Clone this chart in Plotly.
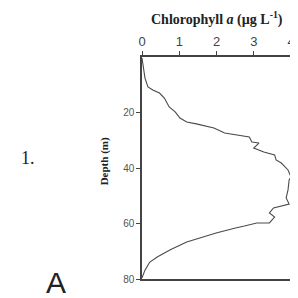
import plotly.graph_objects as go

chl = [0.0, 0.03, 0.08, 0.16, 0.29, 0.47, 0.6, 0.73, 0.89, 1.02, 1.2, 1.46, 1.73, 1.93,
       2.22, 2.56, 2.88, 2.95, 3.14, 3.0, 3.27, 3.56, 3.6, 3.74, 3.92, 4.0,
       3.95, 3.92, 3.87, 3.95, 3.53, 3.42, 3.56, 3.42, 3.08, 2.75, 2.51, 1.99, 1.65, 1.2,
       0.76, 0.42, 0.21, 0.08, 0.0]
depth = [0.4, 4, 7.6, 10.8, 11.9, 13, 14.8, 18, 19.8, 22, 23.4, 24.1, 24.9, 25.6,
         27.4, 28.1, 28.8, 30.6, 31, 32.8, 34.2, 35.3, 37.1, 38.2, 40.7, 43.2,
         44.3, 47.9, 50.8, 53, 54.4, 56.2, 57.7, 59.8, 59.8, 60.9, 61.6, 63.4, 64.9, 66.7,
         69.5, 72, 73.9, 76.8, 79.6]

x_ticks = [0, 1, 2, 3, 4]
y_ticks = [20, 40, 60, 80]

fig = go.Figure()
fig.add_trace(go.Scatter(x=chl, y=depth, mode="lines",
                         line=dict(color="#4a4a4a", width=1.1), showlegend=False))

fig.update_layout(
    width=290, height=298,
    margin=dict(l=134, r=3, t=49, b=27),
    paper_bgcolor="white", plot_bgcolor="white",
    xaxis=dict(side="top", range=[0, 4], tickvals=x_ticks, ticktext=[str(v) for v in x_ticks],
               showgrid=False, zeroline=False, showline=True, linecolor="#444", linewidth=1.5,
               mirror=True, ticks="outside", ticklen=4, tickcolor="#444",
               tickfont=dict(family="Liberation Sans, Arial", size=13, color="#444")),
    yaxis=dict(range=[80, 0], tickvals=y_ticks, ticktext=[str(v) for v in y_ticks],
               showgrid=False, zeroline=False, showline=True, linecolor="#444", linewidth=1.5,
               mirror=True, ticks="outside", ticklen=4, tickcolor="#444",
               tickfont=dict(family="Liberation Sans, Arial", size=10, color="#555")),
    annotations=[
        dict(text="<b>Chlorophyll <i>a</i> (µg L<sup>-1</sup>)</b>", xref="paper", yref="paper",
             x=0.5, y=1, yshift=39, showarrow=False, xanchor="center", yanchor="middle",
             font=dict(family="Liberation Serif, Times New Roman", size=14, color="#222")),
        dict(text="<b>Depth (m)</b>", xref="paper", yref="paper", textangle=-90,
             x=0, xshift=-38, y=0.53, showarrow=False, xanchor="center", yanchor="middle",
             font=dict(family="Liberation Serif, Times New Roman", size=11, color="#222")),
        dict(text="1.", xref="paper", yref="paper", x=0, xshift=-114, y=0.545,
             showarrow=False, xanchor="center", yanchor="middle",
             font=dict(family="Liberation Serif, Times New Roman", size=18, color="#222")),
        dict(text="A", xref="paper", yref="paper", x=0, xshift=-86, y=0, yshift=15,
             showarrow=False, xanchor="center", yanchor="top",
             font=dict(family="Liberation Sans, Arial", size=30, color="#222")),
    ],
)

fig.write_html("out.html")
